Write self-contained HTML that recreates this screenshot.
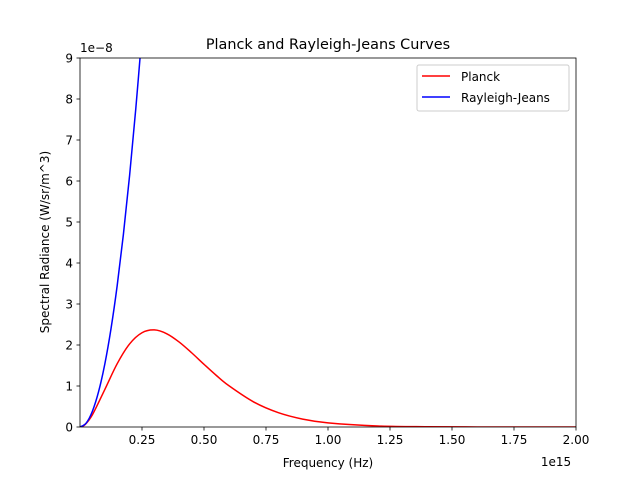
<!DOCTYPE html>
<html><head><meta charset="utf-8"><style>
html,body{margin:0;padding:0;background:#fff;}
svg{display:block;font-family:"DejaVu Sans","Liberation Sans",sans-serif;}
</style></head><body>
<svg id="c" width="640" height="480" viewBox="0 0 640 480">
<rect width="640" height="480" fill="#fff"/>
<text x="328" y="49" font-size="14.4" text-anchor="middle">Planck and Rayleigh-Jeans Curves</text>
<g id="plot"></g>
<text x="328" y="467" font-size="12" text-anchor="middle">Frequency (Hz)</text>
<text x="556" y="466" font-size="12" text-anchor="middle">1e15</text>
<text x="80" y="52" font-size="12">1e−8</text>
<text transform="translate(49,242) rotate(-90)" font-size="12" text-anchor="middle">Spectral Radiance (W/sr/m^3)</text>
<g>
<rect x="417" y="65" width="152" height="46" fill="#fff" fill-opacity="0.8" stroke="#ccc" rx="2"/>
<line x1="422" y1="76" x2="450" y2="76" stroke="red" stroke-width="1.5"/>
<text x="461" y="81" font-size="12">Planck</text>
<line x1="422" y1="97" x2="450" y2="97" stroke="blue" stroke-width="1.5"/>
<text x="461" y="102" font-size="12">Rayleigh-Jeans</text>
</g>
</svg>
<script>
const planckFreq=[0,0.02,0.05,0.1,0.15,0.2,0.25,0.3,0.35,0.4,0.45,0.5,0.55,0.6,0.7,0.8,0.9,1.0,1.2,1.4,1.6,1.8,2.0];
const planckVals=[0,0.056,0.299,0.914,1.544,2.026,2.299,2.368,2.274,2.072,1.811,1.529,1.256,1.008,0.612,0.349,0.190,0.100,0.025,0.006,0.0013,0.0003,0];
const rjFreq=[0,0.025,0.05,0.075,0.1,0.125,0.15,0.175,0.2,0.225,0.25];
const rjVals=[0,0.096,0.384,0.863,1.534,2.397,3.452,4.698,6.136,7.766,9.59];
const xTicks=[0.25,0.5,0.75,1.0,1.25,1.5,1.75,2.0];
const xTickLabels=["0.25","0.50","0.75","1.00","1.25","1.50","1.75","2.00"];
const yTicks=[0,1,2,3,4,5,6,7,8,9];
const L=80,R=576,T=58,B=427,XMAX=2,YMAX=9;
const sx=v=>L+v/XMAX*(R-L), sy=v=>B-v/YMAX*(B-T);
const NS="http://www.w3.org/2000/svg", g=document.getElementById('plot');
function mk(t,a){const e=document.createElementNS(NS,t);for(const k in a)e.setAttribute(k,a[k]);return e;}
const defs=mk('defs',{});const cp=mk('clipPath',{id:'clip'});cp.appendChild(mk('rect',{x:L,y:T,width:R-L,height:B-T}));defs.appendChild(cp);g.appendChild(defs);
function path(xs,ys){const p=xs.map((x,i)=>[sx(x),sy(ys[i])]);let d='M'+p[0][0]+','+p[0][1];
for(let i=0;i<p.length-1;i++){const p0=p[Math.max(i-1,0)],p1=p[i],p2=p[i+1],p3=p[Math.min(i+2,p.length-1)];
d+=' C'+(p1[0]+(p2[0]-p0[0])/6)+','+(p1[1]+(p2[1]-p0[1])/6)+' '+(p2[0]-(p3[0]-p1[0])/6)+','+(p2[1]-(p3[1]-p1[1])/6)+' '+p2[0]+','+p2[1];}return d;}
const pl=mk('path',{d:path(planckFreq,planckVals),fill:'none',stroke:'red','stroke-width':1.5,'clip-path':'url(#clip)'});


g.appendChild(pl);
const rj=mk('path',{d:path(rjFreq,rjVals),fill:'none',stroke:'blue','stroke-width':1.5,'clip-path':'url(#clip)'});


g.appendChild(rj);
const fr=mk('rect',{x:L,y:T,width:R-L,height:B-T,fill:'none',stroke:'#000','stroke-width':0.8});


g.appendChild(fr);
xTicks.forEach((v,i)=>{const x=sx(v);g.appendChild(mk('line',{x1:x,x2:x,y1:B,y2:B+3.5,stroke:'#000','stroke-width':0.8}));
const t=mk('text',{x:x,y:B+17,'font-size':12,'text-anchor':'middle'});t.textContent=xTickLabels[i];


g.appendChild(t);});
yTicks.forEach(v=>{const y=sy(v);g.appendChild(mk('line',{x1:L-3.5,x2:L,y1:y,y2:y,stroke:'#000','stroke-width':0.8}));
const t=mk('text',{x:L-7,y:y+4.5,'font-size':12,'text-anchor':'end'});t.textContent=String(v);


g.appendChild(t);});
</script>
</body></html>
